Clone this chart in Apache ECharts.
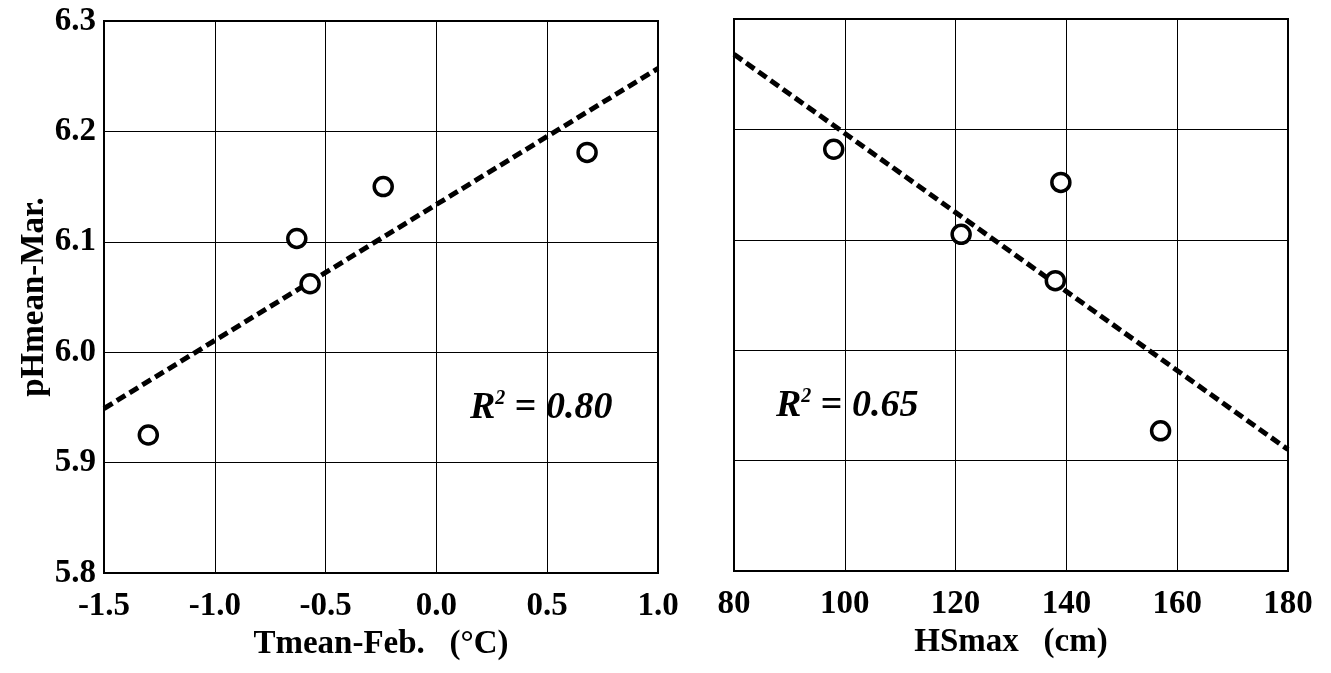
<!DOCTYPE html>
<html>
<head>
<meta charset="utf-8">
<script src="https://cdn.jsdelivr.net/npm/echarts@6/dist/echarts.min.js"></script>
<style>html,body{margin:0;padding:0;background:#fff;}#c{width:1331px;height:673px;}</style>
</head>
<body>
<div id="c"></div>
<script>
// ---- data ----
const tmeanFeb = [-1.30, -0.63, -0.57, -0.24, 0.68];
const phLeft = [5.925, 6.103, 6.062, 6.150, 6.181];
const hsMax = [98, 121, 138, 139, 157];
const phRight = [6.182, 6.105, 6.063, 6.152, 5.927];
const trendLeftX = [-1.5, 1.0];
const trendLeftY = [5.949, 6.257];
const trendRightX = [80, 180];
const trendRightY = [6.268, 5.910];
const xTicksLeft = [-1.5, -1.0, -0.5, 0.0, 0.5, 1.0];
const xTicksRight = [80, 100, 120, 140, 160, 180];
const yTicks = [5.8, 5.9, 6.0, 6.1, 6.2, 6.3];
const r2Left = '0.80';
const r2Right = '0.65';

const FONT = '"Liberation Serif", "Times New Roman", serif';
const zip = (a, b) => a.map((v, i) => [v, b[i]]);

const chart = echarts.init(document.getElementById('c'), null, {renderer: 'canvas'});

const labelStyle = {color: '#000', fontFamily: FONT, fontWeight: 'bold', fontSize: 33};
const nameStyle = {color: '#000', fontFamily: FONT, fontWeight: 'bold', fontSize: 33};

function xAxis(idx, ticks, name, dec) {
  return {
    type: 'value', gridIndex: idx,
    min: ticks[0], max: ticks[ticks.length - 1], interval: ticks[1] - ticks[0],
    name: name, nameLocation: 'middle', nameGap: 46, nameTextStyle: nameStyle,
    axisLine: {show: true, onZero: false, lineStyle: {color: '#000', width: 2}},
    axisTick: {show: false},
    axisLabel: Object.assign({margin: 17, showMinLabel: true, showMaxLabel: true,
      formatter: v => dec ? v.toFixed(dec) : String(Math.round(v))}, labelStyle),
    splitLine: {show: true, lineStyle: {color: '#000', width: 1}}
  };
}
function yAxis(idx, showLabels) {
  return {
    type: 'value', gridIndex: idx,
    min: yTicks[0], max: yTicks[yTicks.length - 1], interval: 0.1,
    name: showLabels ? 'pHmean-Mar.' : '', nameLocation: 'middle', nameGap: 44,
    nameTextStyle: nameStyle,
    axisLine: {show: true, onZero: false, lineStyle: {color: '#000', width: 2}},
    axisTick: {show: false},
    axisLabel: Object.assign({show: showLabels, margin: 8, showMinLabel: true, showMaxLabel: true,
      formatter: v => v.toFixed(1)}, labelStyle),
    splitLine: {show: true, lineStyle: {color: '#000', width: 1}}
  };
}

const scatterStyle = {
  type: 'scatter', symbol: 'circle', symbolSize: 18,
  itemStyle: {color: '#fff', borderColor: '#000', borderWidth: 3.5, opacity: 1},
  z: 5
};
const trendStyle = {
  type: 'line', showSymbol: false, symbol: 'none',
  lineStyle: {color: '#000', width: 5, type: [10, 5]},
  z: 4, silent: true
};

function r2Text(left, top, val) {
  return {
    type: 'text', left: left, top: top,
    style: {
      text: '{r|R}{s|2}{e| = }{v|' + val + '}',
      rich: {
        r: {fontFamily: FONT, fontWeight: 'bold', fontStyle: 'italic', fontSize: 38, fill: '#000'},
        s: {fontFamily: FONT, fontWeight: 'bold', fontStyle: 'italic', fontSize: 20, fill: '#000', verticalAlign: 'top', padding: [0, 0, 16, 0]},
        e: {fontFamily: FONT, fontWeight: 'bold', fontSize: 38, fill: '#000'},
        v: {fontFamily: FONT, fontWeight: 'bold', fontStyle: 'italic', fontSize: 38, fill: '#000'}
      }
    },
    z: 10
  };
}

chart.setOption({
  backgroundColor: '#fff',
  animation: false,
  grid: [
    {left: 104, top: 21, width: 554, height: 552, show: true, borderColor: '#000', borderWidth: 2, backgroundColor: 'transparent'},
    {left: 734, top: 19, width: 554, height: 552, show: true, borderColor: '#000', borderWidth: 2, backgroundColor: 'transparent'}
  ],
  xAxis: [
    xAxis(0, xTicksLeft, 'Tmean-Feb.   (°C)', 1),
    xAxis(1, xTicksRight, 'HSmax   (cm)', 0)
  ],
  yAxis: [yAxis(0, true), yAxis(1, false)],
  series: [
    Object.assign({}, trendStyle, {xAxisIndex: 0, yAxisIndex: 0, data: zip(trendLeftX, trendLeftY)}),
    Object.assign({}, scatterStyle, {xAxisIndex: 0, yAxisIndex: 0, data: zip(tmeanFeb, phLeft)}),
    Object.assign({}, trendStyle, {xAxisIndex: 1, yAxisIndex: 1, data: zip(trendRightX, trendRightY)}),
    Object.assign({}, scatterStyle, {xAxisIndex: 1, yAxisIndex: 1, data: zip(hsMax, phRight)})
  ],
  graphic: [
    r2Text(470, 389, r2Left),
    r2Text(776, 387, r2Right)
  ]
});
</script>
</body>
</html>
